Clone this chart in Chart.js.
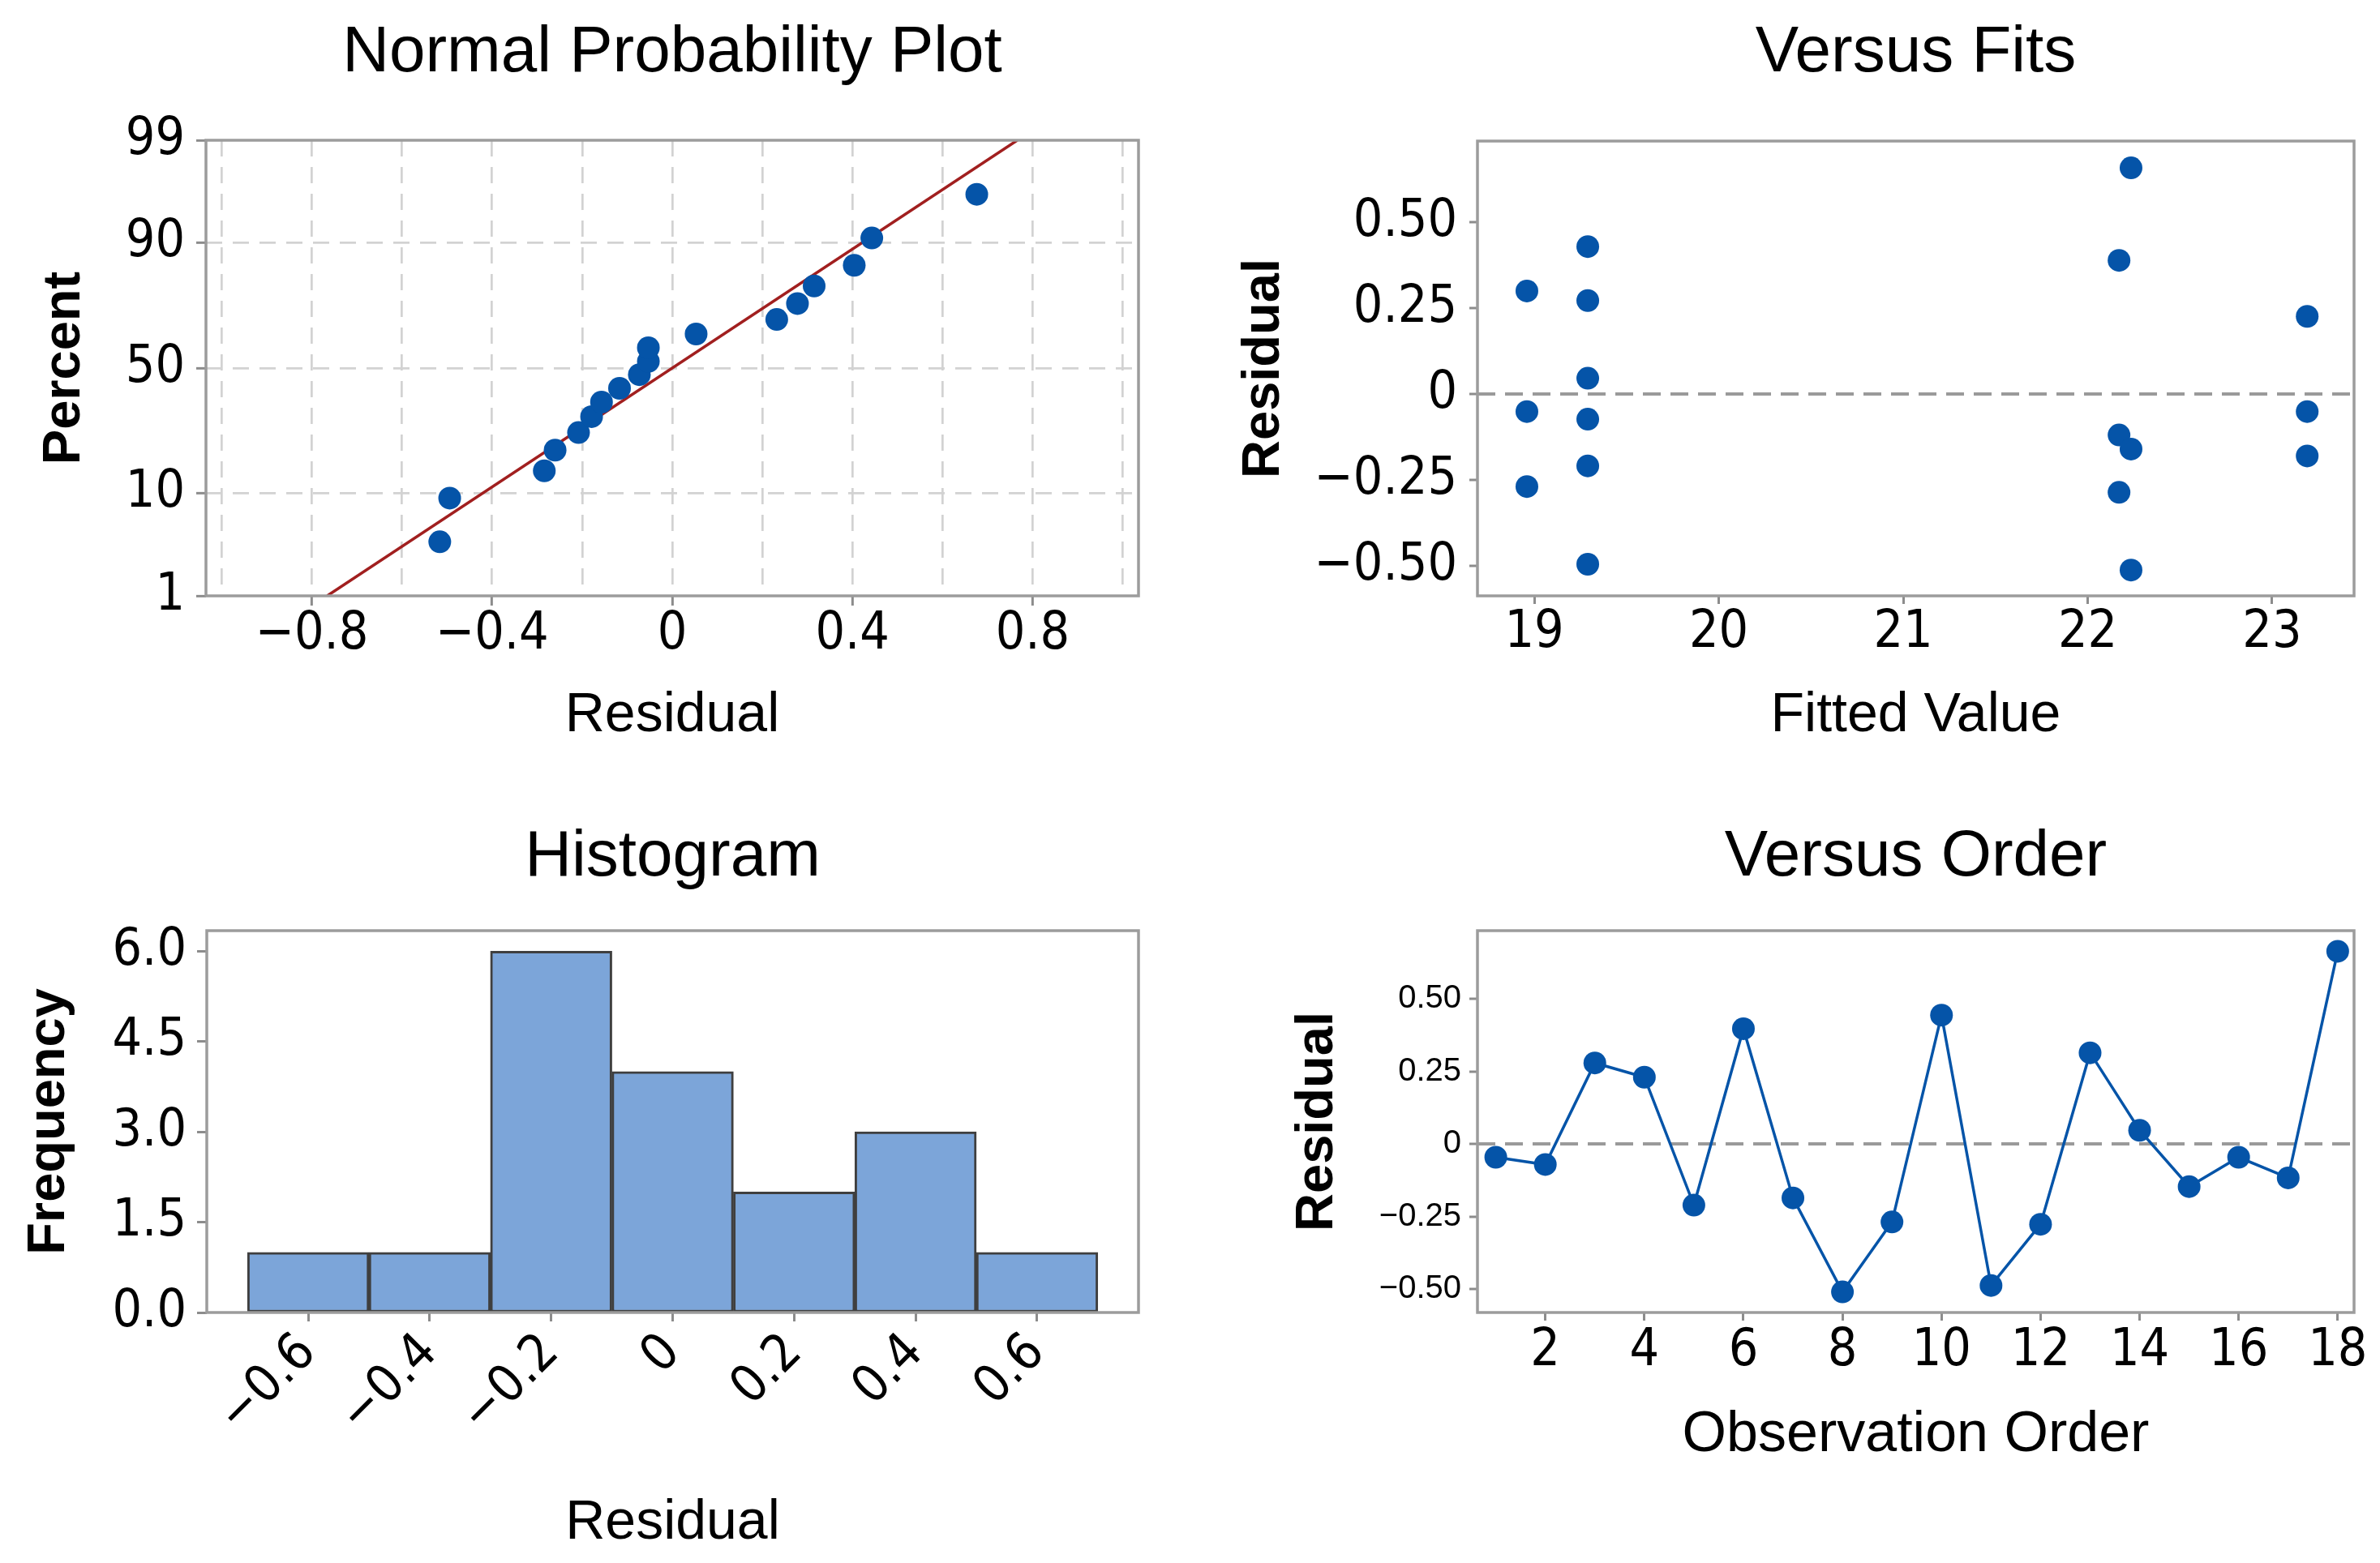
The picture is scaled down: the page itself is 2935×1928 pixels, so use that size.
<!DOCTYPE html>
<html><head><meta charset="utf-8">
<script src="https://cdn.jsdelivr.net/npm/chart.js@4.4.1/dist/chart.umd.min.js"></script>
<style>
html,body{margin:0;padding:0;background:#fff;}
body{width:2935px;height:1928px;position:relative;overflow:hidden;}
.q{position:absolute;}
.q canvas{display:block;}
</style></head><body>
<div class="q" style="left:0;top:0;width:1467px;height:964px"><canvas id="c1" width="1467" height="964"></canvas></div>
<div class="q" style="left:1467px;top:0;width:1468px;height:964px"><canvas id="c2" width="1468" height="964"></canvas></div>
<div class="q" style="left:0;top:964px;width:1467px;height:964px"><canvas id="c3" width="1467" height="964"></canvas></div>
<div class="q" style="left:1467px;top:964px;width:1468px;height:964px"><canvas id="c4" width="1468" height="964"></canvas></div>
<script>
// ---------- data ----------
// Normal probability plot
const npResidual = [-0.516, -0.494, -0.284, -0.260, -0.208, -0.179, -0.157, -0.117, -0.073, -0.053, -0.053, 0.053, 0.232, 0.278, 0.315, 0.404, 0.443, 0.676];
const npPercent  = [3.8, 9.2, 14.7, 20.1, 25.5, 31.0, 36.4, 41.8, 47.3, 52.7, 58.2, 63.6, 69.0, 74.5, 79.9, 85.3, 90.8, 96.2];
const npLineResidual = [-0.766, 0.766];
const npLinePercent  = [1, 99];
const npXGrid   = [-1.0, -0.8, -0.6, -0.4, -0.2, 0, 0.2, 0.4, 0.6, 0.8, 1.0];
const npXLabels = [-0.8, -0.4, 0, 0.4, 0.8];
const npYTicks  = [1, 10, 50, 90, 99];

// Versus fits
const fitsFitted   = [18.96, 18.96, 18.96, 19.29, 19.29, 19.29, 19.29, 19.29, 19.29, 22.17, 22.235, 22.17, 22.235, 22.17, 22.235, 23.19, 23.19, 23.19];
const fitsResidual = [0.300, -0.051, -0.269, 0.429, 0.272, 0.046, -0.073, -0.209, -0.495, 0.389, 0.658, -0.119, -0.160, -0.286, -0.512, 0.226, -0.051, -0.180];
const fitsXTicks = [19, 20, 21, 22, 23];

const residTicks = [-0.5, -0.25, 0, 0.25, 0.5];
const residTickLabels = ['\u22120.50', '\u22120.25', '0', '0.25', '0.50'];

// Histogram
const histCenters = [-0.6, -0.4, -0.2, 0, 0.2, 0.4, 0.6];
const histCounts  = [1, 1, 6, 4, 2, 3, 1];
const histXTicks  = [-0.6, -0.4, -0.2, 0, 0.2, 0.4, 0.6];
const histXLabels = ['\u22120.6', '\u22120.4', '\u22120.2', '0', '0.2', '0.4', '0.6'];
const histYTicks  = [0, 1.5, 3, 4.5, 6];
const histYLabels = ['0.0', '1.5', '3.0', '4.5', '6.0'];

// Versus order
const orderObs = [1, 2, 3, 4, 5, 6, 7, 8, 9, 10, 11, 12, 13, 14, 15, 16, 17, 18];
const orderResidual = [-0.046, -0.071, 0.279, 0.230, -0.211, 0.397, -0.186, -0.510, -0.269, 0.444, -0.488, -0.277, 0.314, 0.047, -0.147, -0.046, -0.117, 0.664];
const orderXTicks = [2, 4, 6, 8, 10, 12, 14, 16, 18];

// ---------- helpers ----------
function probit(p) {
  const a = [-3.969683028665376e+01, 2.209460984245205e+02, -2.759285104469687e+02, 1.383577518672690e+02, -3.066479806614716e+01, 2.506628277459239e+00];
  const b = [-5.447609879822406e+01, 1.615858368580409e+02, -1.556989798598866e+02, 6.680131188771972e+01, -1.328068155288572e+01];
  const c = [-7.784894002430293e-03, -3.223964580411365e-01, -2.400758277161838e+00, -2.549671010229297e+00, 4.374664141464968e+00, 2.938163982698783e+00];
  const d = [7.784695709041462e-03, 3.224671290700398e-01, 2.445134137142996e+00, 3.754408661907416e+00];
  const pl = 0.02425;
  let q, r;
  if (p < pl) {
    q = Math.sqrt(-2 * Math.log(p));
    return (((((c[0]*q+c[1])*q+c[2])*q+c[3])*q+c[4])*q+c[5]) / ((((d[0]*q+d[1])*q+d[2])*q+d[3])*q+1);
  } else if (p <= 1 - pl) {
    q = p - 0.5; r = q*q;
    return (((((a[0]*r+a[1])*r+a[2])*r+a[3])*r+a[4])*r+a[5])*q / (((((b[0]*r+b[1])*r+b[2])*r+b[3])*r+b[4])*r+1);
  } else {
    q = Math.sqrt(-2 * Math.log(1 - p));
    return -(((((c[0]*q+c[1])*q+c[2])*q+c[3])*q+c[4])*q+c[5]) / ((((d[0]*q+d[1])*q+d[2])*q+d[3])*q+1);
  }
}
function fmtSigned(v, dec) {
  if (Math.abs(v) < 1e-9) return '0';
  return (v < 0 ? '\u2212' : '') + Math.abs(v).toFixed(dec);
}
const near = (a, b) => Math.abs(a - b) < 1e-9;

function hasFont(name) {
  const cv = document.createElement('canvas').getContext('2d');
  const s = 'Residual 0123456789';
  cv.font = '72px monospace'; const w1 = cv.measureText(s).width;
  cv.font = '72px "' + name + '", monospace'; const w2 = cv.measureText(s).width;
  return Math.abs(w1 - w2) > 0.5;
}
const NARROW = hasFont('Liberation Sans Narrow');
const tickFont = NARROW ? {family: '"Liberation Sans Narrow"', size: 72, lineHeight: 1} : {family: '"DejaVu Sans Condensed"', size: 64, lineHeight: 1};
const smallTickFont = {family: '"Liberation Sans", Arial, sans-serif', size: 40, lineHeight: 1};
const xTitleFont = {family: '"Liberation Sans", Arial, sans-serif', size: 68, lineHeight: 1.2};
const yTitleFont = {family: '"Liberation Sans", Arial, sans-serif', size: 65, weight: 'bold', lineHeight: 1.2};
const titleFont = {family: '"Liberation Sans", Arial, sans-serif', size: 80, weight: 'normal', lineHeight: 1.2};

const BLUE = '#0554a8';
const TICKC = '#8c8c8c';

const boxPlugin = {
  id: 'box',
  afterDatasetsDraw(chart) {
    const a = chart.chartArea, ctx = chart.ctx;
    ctx.save();
    ctx.strokeStyle = '#9c9c9c';
    ctx.lineWidth = 3.5;
    ctx.strokeRect(a.left, a.top, a.right - a.left, a.bottom - a.top);
    ctx.restore();
  }
};

Chart.defaults.color = '#000';
Chart.defaults.animation = false;
Chart.defaults.plugins.legend.display = false;
Chart.defaults.plugins.tooltip.enabled = false;
Chart.defaults.events = [];

function titleOpts(text, top, bottom) {
  return {display: true, text, fullSize: false, font: titleFont, color: '#000', padding: {top, bottom}};
}

// ---------- 1. Normal probability plot ----------
const zMin = probit(0.01), zMax = probit(0.99);
new Chart(document.getElementById('c1'), {
  type: 'scatter',
  data: {
    datasets: [
      {data: npResidual.map((r, i) => ({x: r, y: probit(npPercent[i] / 100)})), backgroundColor: BLUE, borderWidth: 0, pointRadius: 14},
      {type: 'line', data: npLineResidual.map((r, i) => ({x: r, y: probit(npLinePercent[i] / 100)})), borderColor: '#a11f1f', borderWidth: 3.5, pointRadius: 0, fill: false}
    ]
  },
  options: {
    responsive: false,
    layout: {padding: {left: 0, right: 63, top: 0, bottom: 0}},
    plugins: {title: titleOpts('Normal Probability Plot', 18, 59)},
    scales: {
      x: {
        type: 'linear', min: -1.035, max: 1.035,
        afterBuildTicks: s => { s.ticks = npXGrid.map(v => ({value: v})); },
        afterFit: s => { s.height = 229; },
        ticks: {autoSkip: false, maxRotation: 0, font: tickFont, padding: 4,
          callback: v => npXLabels.some(t => near(t, v)) ? fmtSigned(v, 1) : ''},
        grid: {color: '#d2d2d2', lineWidth: 2.7, tickLength: 12, tickWidth: 3,
          tickColor: c => npXLabels.some(t => near(t, c.tick.value)) ? TICKC : 'transparent'},
        border: {display: false, dash: [20, 13]},
        title: {display: true, text: 'Residual', font: xTitleFont, color: '#000', padding: {top: 0, bottom: 40}}
      },
      y: {
        type: 'linear', min: zMin, max: zMax,
        afterBuildTicks: s => { s.ticks = npYTicks.map(p => ({value: probit(p / 100)})); },
        afterFit: s => { s.width = 254; },
        ticks: {autoSkip: false, font: tickFont, padding: 14, callback: (v, i) => String(npYTicks[i])},
        grid: {color: c => (c.index > 0 && c.index < npYTicks.length - 1) ? '#d2d2d2' : 'transparent', lineWidth: 2.7, tickLength: 12, tickWidth: 3, tickColor: TICKC},
        border: {display: false, dash: [20, 13]},
        title: {display: true, text: 'Percent', font: yTitleFont, color: '#000', padding: {top: 41, bottom: 0}}
      }
    }
  },
  plugins: [boxPlugin]
});

function residY(min, max, width, font, titlePad, pad) {
  return {
    type: 'linear', min, max,
    afterBuildTicks: s => { s.ticks = residTicks.map(v => ({value: v})); },
    afterFit: s => { s.width = width; },
    ticks: {autoSkip: false, font, padding: pad, callback: (v, i) => residTickLabels[i]},
    grid: {color: c => near(c.tick.value, 0) ? '#9a9a9a' : 'transparent', lineWidth: 4, tickLength: 10, tickWidth: 3, tickColor: TICKC},
    border: {display: false, dash: [22, 12]},
    title: {display: true, text: 'Residual', font: yTitleFont, color: '#000', padding: {top: titlePad, bottom: 0}}
  };
}

// ---------- 2. Versus fits ----------
new Chart(document.getElementById('c2'), {
  type: 'scatter',
  data: {datasets: [{data: fitsFitted.map((f, i) => ({x: f, y: fitsResidual[i]})), backgroundColor: BLUE, borderWidth: 0, pointRadius: 14}]},
  options: {
    responsive: false,
    layout: {padding: {left: 0, right: 32, top: 0, bottom: 0}},
    plugins: {title: titleOpts('Versus Fits', 18, 60)},
    scales: {
      x: {
        type: 'linear', min: 18.692, max: 23.444,
        afterBuildTicks: s => { s.ticks = fitsXTicks.map(v => ({value: v})); },
        afterFit: s => { s.height = 229; },
        ticks: {autoSkip: false, maxRotation: 0, font: tickFont, padding: 4, callback: v => String(v)},
        grid: {color: 'transparent', tickLength: 10, tickWidth: 3, tickColor: TICKC},
        border: {display: false},
        title: {display: true, text: 'Fitted Value', font: xTitleFont, color: '#000', padding: {top: 0, bottom: 40}}
      },
      y: residY(-0.587, 0.736, 355, tickFont, 53, 15)
    }
  },
  plugins: [boxPlugin]
});

// ---------- 3. Histogram ----------
new Chart(document.getElementById('c3'), {
  type: 'bar',
  data: {datasets: [{data: histCenters.map((c, i) => ({x: c, y: histCounts[i]})), backgroundColor: '#7ca5d9', borderColor: '#3f3f3f', borderWidth: 3, borderSkipped: false, barPercentage: 1, categoryPercentage: 1}]},
  options: {
    responsive: false,
    layout: {padding: {left: 0, right: 63, top: 0, bottom: 0}},
    plugins: {title: titleOpts('Histogram', 46, 42)},
    scales: {
      x: {
        type: 'linear', min: -0.767, max: 0.767, offset: false,
        afterBuildTicks: s => { s.ticks = histXTicks.map(v => ({value: v})); },
        afterFit: s => { s.height = 309; },
        ticks: {autoSkip: false, minRotation: 45, maxRotation: 45, font: tickFont, padding: 6, callback: (v, i) => histXLabels[i]},
        grid: {color: 'transparent', tickLength: 11, tickWidth: 3, tickColor: TICKC, offset: false},
        border: {display: false},
        title: {display: true, text: 'Residual', font: xTitleFont, color: '#000', padding: {top: 0, bottom: 8}}
      },
      y: {
        type: 'linear', min: 0, max: 6.34,
        afterBuildTicks: s => { s.ticks = histYTicks.map(v => ({value: v})); },
        afterFit: s => { s.width = 255; },
        ticks: {autoSkip: false, font: tickFont, padding: 13, callback: (v, i) => histYLabels[i]},
        grid: {color: 'transparent', tickLength: 12, tickWidth: 3, tickColor: TICKC},
        border: {display: false},
        title: {display: true, text: 'Frequency', font: yTitleFont, color: '#000', padding: {top: 22, bottom: 0}}
      }
    }
  },
  plugins: [boxPlugin]
});

// ---------- 4. Versus order ----------
new Chart(document.getElementById('c4'), {
  type: 'line',
  data: {datasets: [{data: orderObs.map((o, i) => ({x: o, y: orderResidual[i]})), borderColor: BLUE, backgroundColor: BLUE, borderWidth: 3.5, pointRadius: 14, pointBorderWidth: 0, tension: 0, fill: false}]},
  options: {
    responsive: false,
    layout: {padding: {left: 0, right: 32, top: 0, bottom: 0}},
    plugins: {title: titleOpts('Versus Order', 46, 42)},
    scales: {
      x: {
        type: 'linear', min: 0.63, max: 18.33,
        afterBuildTicks: s => { s.ticks = orderXTicks.map(v => ({value: v})); },
        afterFit: s => { s.height = 309; },
        ticks: {autoSkip: false, maxRotation: 0, font: tickFont, padding: 6, callback: v => String(v)},
        grid: {color: 'transparent', tickLength: 10, tickWidth: 3, tickColor: TICKC},
        border: {display: false},
        title: {display: true, text: 'Observation Order', font: Object.assign({}, xTitleFont, {size: 70}), color: '#000', padding: {top: 0, bottom: 115}}
      },
      y: residY(-0.581, 0.735, 355, smallTickFont, 119, 10)
    }
  },
  plugins: [boxPlugin]
});
</script>
</body></html>
